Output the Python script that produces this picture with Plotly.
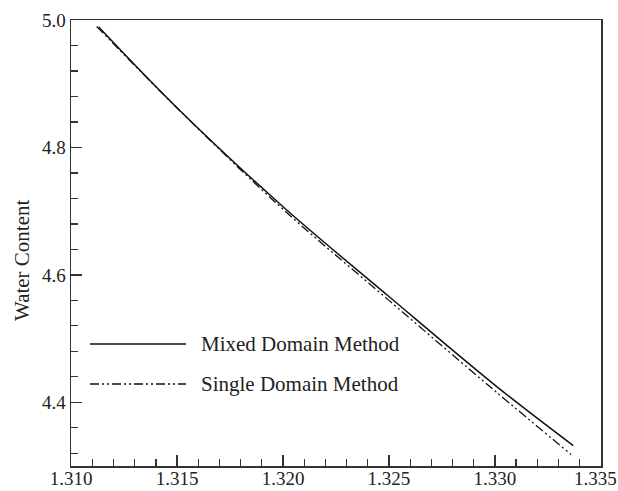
import plotly.graph_objects as go

# Data
mixed_x = [1.3113, 1.3150, 1.3200, 1.3250, 1.3300, 1.3337]
mixed_y = [4.989, 4.862, 4.707, 4.566, 4.427, 4.332]

single_x = [1.3112, 1.3150, 1.3200, 1.3250, 1.3300, 1.3336]
single_y = [4.990, 4.862, 4.703, 4.560, 4.418, 4.318]

series_names = ["Mixed Domain Method", "Single Domain Method"]
x_ticks = [1.310, 1.315, 1.320, 1.325, 1.330, 1.335]
y_ticks = [4.4, 4.6, 4.8, 5.0]

W, H = 618, 491
L, R, T, B = 71, 17, 20, 25
pw, ph = W - L - R, H - T - B

def px_x(p):
    return (p - L) / pw

def px_y(p):
    return 1 - (p - T) / ph

FONT = "Liberation Serif, Times New Roman, serif"
DASHDOT = "9px,3px,2px,3px,2px,3px"

fig = go.Figure()
fig.add_trace(go.Scatter(x=mixed_x, y=mixed_y, mode="lines", name=series_names[0],
                         line=dict(color="#111", width=1.5, shape="spline"), showlegend=False))
fig.add_trace(go.Scatter(x=single_x, y=single_y, mode="lines", name=series_names[1],
                         line=dict(color="#111", width=1.3, dash=DASHDOT, shape="spline"), showlegend=False))

# Legend (manual, inside plot)
leg_y = [px_y(344), px_y(384)]
leg_dash = ["solid", DASHDOT]
for name, yy, dsh in zip(series_names, leg_y, leg_dash):
    fig.add_shape(type="line", xref="paper", yref="paper", x0=px_x(90), x1=px_x(186), y0=yy, y1=yy,
                  line=dict(color="#111", width=1.5, dash=dsh))
    fig.add_annotation(xref="paper", yref="paper", x=px_x(199), y=yy, text=name, showarrow=False,
                       xanchor="left", yanchor="middle", font=dict(family=FONT, size=21, color="#222"))

fig.add_annotation(xref="paper", yref="paper", x=px_x(22), y=px_y(260), text="Water Content",
                   textangle=-90, showarrow=False, xanchor="center", yanchor="middle",
                   font=dict(family=FONT, size=21, color="#222"))

# x tick labels: the last one is placed as an annotation nudged left so it stays on the page
x_ticktext = [f"{v:.3f}" for v in x_ticks]
fig.add_annotation(xref="x", yref="paper", x=x_ticks[-1], y=px_y(478), text=x_ticktext[-1],
                   showarrow=False, xanchor="center", yanchor="middle", xshift=-5,
                   font=dict(family=FONT, size=19, color="#222"))
x_ticktext_axis = x_ticktext[:-1] + [""]

axis_common = dict(showgrid=False, zeroline=False, showline=True, linecolor="#333", linewidth=1.5,
                   mirror=True, ticks="inside", ticklen=11, tickwidth=1.3, tickcolor="#333",
                   automargin=False, tickfont=dict(family=FONT, size=19, color="#222"))

fig.update_xaxes(range=[1.30999, 1.33501], tickvals=x_ticks, ticktext=x_ticktext_axis,
                 ticklabelstandoff=-5,
                 minor=dict(dtick=0.001, tick0=1.310, ticks="inside", ticklen=7, tickwidth=1.2, tickcolor="#333"),
                 **axis_common)
fig.update_yaxes(range=[4.30, 5.0001], tickvals=y_ticks, ticktext=[f"{v:.1f}" for v in y_ticks],
                 minor=dict(dtick=0.04, tick0=4.4, ticks="inside", ticklen=7, tickwidth=1.2, tickcolor="#333"),
                 **axis_common)

fig.update_layout(template="none", width=W, height=H, margin=dict(l=L, r=R, t=T, b=B, autoexpand=False),
                  plot_bgcolor="white", paper_bgcolor="white", hovermode=False)

fig.write_html("out.html", config={"displayModeBar": False, "staticPlot": True},
               post_script="document.body.style.margin='0';document.body.style.overflow='hidden';")
